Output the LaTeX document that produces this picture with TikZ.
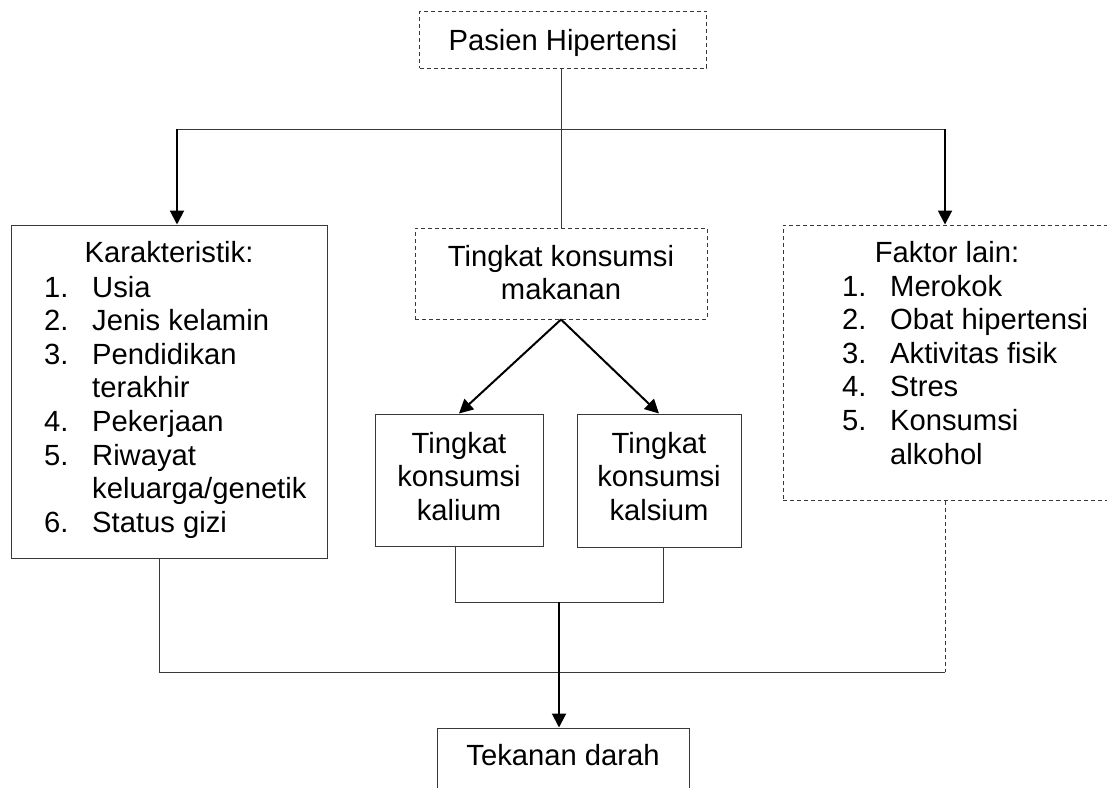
\documentclass[tikz,border=0pt]{standalone}
\usepackage{fontspec}
\setmainfont{Liberation Sans}
\usetikzlibrary{arrows.meta}
\definecolor{linegray}{HTML}{383838}
\newcommand\dfont{\fontsize{29.2}{33.6}\selectfont}
\begin{document}
\begin{tikzpicture}[x=1pt,y=-1pt,
  box/.style={draw=linegray, line width=1pt, inner sep=0pt},
  dbox/.style={box, dash pattern=on 4pt off 3pt},
  lbl/.style={inner sep=0pt, anchor=base, font=\dfont},
  lst/.style={inner sep=0pt, anchor=base west, font=\dfont},
  thinline/.style={draw=linegray, line width=1pt},
  thickarrow/.style={draw=black, line width=2pt, -{Triangle[length=14pt,width=14pt]}},
]
\path[use as bounding box] (0,0) rectangle (1107,787);
\clip (0,0) rectangle (1107,787);
\fill[white] (0,0) rectangle (1107,787);

% boxes
\node[dbox, minimum width=287pt, minimum height=57pt] (top) at (563,39.5) {};
\node[dbox, minimum width=292pt, minimum height=91pt] (mid) at (561,273.5) {};
\node[box, minimum width=316pt, minimum height=333pt] (lbox) at (169,391.5) {};
\node[dbox, minimum width=347pt, minimum height=275pt] (rbox) at (956.5,362.5) {};
\node[box, minimum width=168pt, minimum height=132pt] (kal) at (459,480) {};
\node[box, minimum width=164pt, minimum height=133pt] (kals) at (659,480.5) {};
\node[box, minimum width=252pt, minimum height=102pt] (bot) at (563,779) {};

% texts
\node[lbl] (ttop) at (563,50) {Pasien Hipertensi};
\node[lbl] (tmid) at (561,266) {\begin{tabular}[t]{@{}c@{}}Tingkat konsumsi\\ makanan\end{tabular}};
\node[lbl] (tkar) at (169,262) {Karakteristik:};
\node[lst] (lkar) at (44,297) {\begin{tabular}[t]{@{}p{48pt}@{}l@{}}
1. & Usia\\
2. & Jenis kelamin\\
3. & Pendidikan\\
   & terakhir\\
4. & Pekerjaan\\
5. & Riwayat\\
   & keluarga/genetik\\
6. & Status gizi
\end{tabular}};
\node[lbl] (tfak) at (947,262) {Faktor lain:};
\node[lst] (lfak) at (842,296) {\begin{tabular}[t]{@{}p{48pt}@{}l@{}}
1. & Merokok\\
2. & Obat hipertensi\\
3. & Aktivitas fisik\\
4. & Stres\\
5. & Konsumsi\\
   & alkohol
\end{tabular}};
\node[lbl] (tkal) at (459,453) {\begin{tabular}[t]{@{}c@{}}Tingkat\\ konsumsi\\ kalium\end{tabular}};
\node[lbl] (tkals) at (659,453) {\begin{tabular}[t]{@{}c@{}}Tingkat\\ konsumsi\\ kalsium\end{tabular}};
\node[lbl] (tbot) at (563,765) {Tekanan darah};

% connectors
\coordinate (hub) at (561,129);
\coordinate (hl) at (177,129);
\coordinate (hr) at (945,129);
\draw[thinline] (top.south -| hub) -- (mid.north -| hub);
\draw[thinline] (hl) -- (hr);
\draw[thickarrow] (hl) -- (lbox.north -| hl);
\draw[thickarrow] (hr) -- (rbox.north -| hr);

\draw[thickarrow] (mid.south -| hub) -- (kal.north);
\draw[thickarrow] (mid.south -| hub) -- (kals.north);

\coordinate (ja) at (455,602);
\coordinate (jb) at (663,602);
\coordinate (out) at (559,602);
\draw[thinline] (kal.south -| ja) -- (ja) -- (jb) -- (kals.south -| jb);

\coordinate (bl) at (159,672);
\coordinate (br) at (945,672);
\draw[thinline] (lbox.south -| bl) -- (bl) -- (br);
\draw[thinline, dash pattern=on 4pt off 3pt] (rbox.south -| br) -- (br);

\draw[thickarrow] (out) -- (bot.north -| out);
\end{tikzpicture}
\end{document}
